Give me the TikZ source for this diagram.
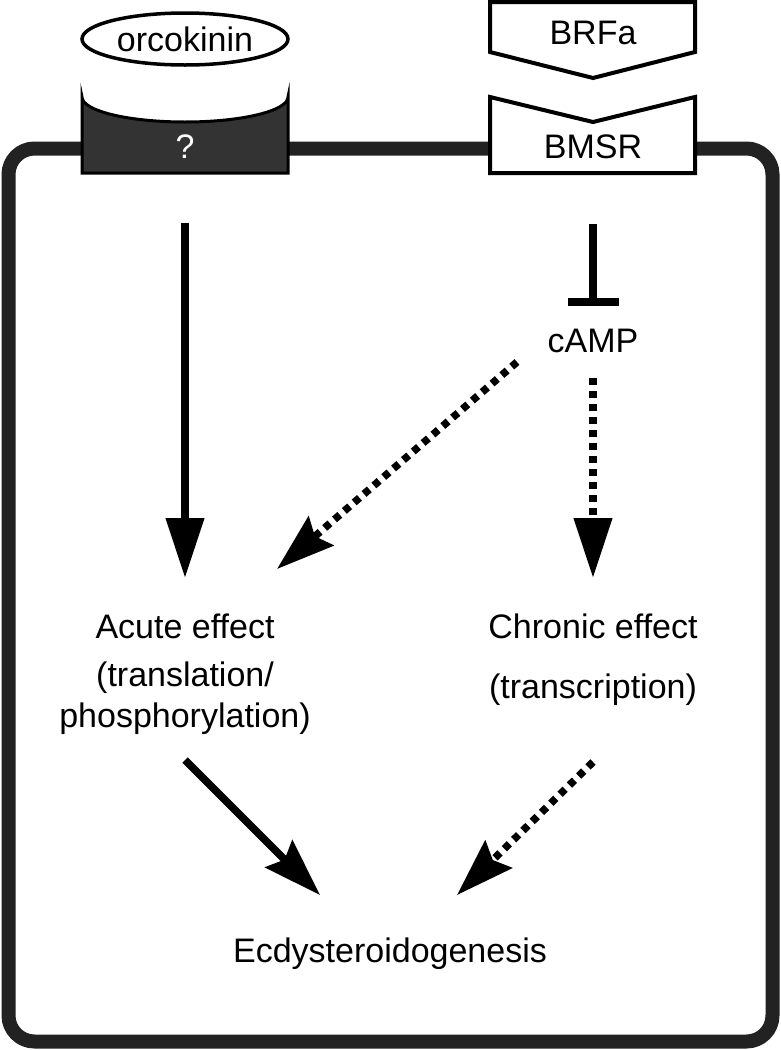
\documentclass[tikz,border=0pt]{standalone}
\usepackage{fontspec}
\setmainfont{Liberation Sans}
\usetikzlibrary{arrows.meta,shapes.geometric}
\definecolor{celledge}{HTML}{222222}
\definecolor{recfill}{HTML}{333333}
\begin{document}
\begin{tikzpicture}[x=1pt,y=-1pt,
  lbl/.style={font=\fontsize{34}{40}\selectfont, inner sep=0pt, outer sep=0pt},
  cellwall/.style={draw=celledge, line width=14pt, rounded corners=26pt},
  shapeline/.style={draw=black, line width=4pt, line join=miter},
  headT/.style={-{Triangle[length=60pt,width=37pt]}},
  headS/.style={-{Stealth[length=58pt,width=38pt,inset=8pt]}},
  solidline/.style={line width=7.5pt},
  dotline/.style={line width=7.5pt, dash pattern=on 7pt off 6pt},
]
\useasboundingbox (0,0) rectangle (781,1050);
\fill[white] (0,0) rectangle (781,1050);

% cell membrane
\draw[cellwall] (8.5,148.5) rectangle (772.5,1041.5);

% orcokinin and unknown receptor
\node[lbl, ellipse, draw=black, line width=3.5pt, minimum width=206pt, minimum height=52pt] (orco) at (185,39) {orcokinin};
\path[draw=black, line width=3pt, fill=recfill] (82,97) -- (82,173) -- (288,173) -- (288,97)
  .. controls (288,110.8) and (241.9,122) .. (185,122)
  .. controls (128.1,122) and (82,110.8) .. (82,97) -- cycle;
\node[lbl, text=white] (qmark) at (185,147) {?};

% BRFa and BMSR
\draw[shapeline, fill=white] (490,2) -- (695,2) -- (695,52) -- (593,78) -- (490,52) -- cycle;
\node[lbl, anchor=base] (brfa) at (593,44) {BRFa};
\draw[shapeline, fill=white] (490,97) -- (593,122) -- (695,97) -- (695,173) -- (490,173) -- cycle;
\node[lbl, anchor=base] (bmsr) at (593,158) {BMSR};

% texts
\node[lbl, anchor=base] (camp) at (593,352) {cAMP};
\node[lbl, anchor=base] (acute) at (185,638) {Acute effect};
\node[lbl, anchor=base] (acute2) at (185,686) {(translation/};
\node[lbl, anchor=base] (acute3) at (185,727) {phosphorylation)};
\node[lbl, anchor=base] (chronic) at (593,638) {Chronic effect};
\node[lbl, anchor=base] (chronic2) at (593,698) {(transcription)};
\node[lbl, anchor=base] (ecdy) at (390,962) {Ecdysteroidogenesis};

% connector end points
\coordinate (qout) at (185,223);
\coordinate (acutein) at (185,578);
\coordinate (bmsrout) at (593,224);
\coordinate (campbar) at (593,302);
\coordinate (campoutL) at (517,362);
\coordinate (acuteinR) at (277,569);
\coordinate (campoutB) at (593,378);
\coordinate (chronicin) at (593,578);
\coordinate (acuteout) at (185,760);
\coordinate (ecdyinL) at (320,895);
\coordinate (chronicout) at (593,762);
\coordinate (ecdyinR) at (457,895);

% connectors
\draw[solidline, headT] (qout) -- (acutein);
\draw[solidline] (bmsrout) -- (campbar);
\draw[line width=7.5pt] ([xshift=-25.5pt]campbar) -- ([xshift=25.5pt]campbar);
\draw[dotline, headS] (campoutL) -- (acuteinR);
\draw[dotline, headT] (campoutB) -- (chronicin);
\draw[solidline, headS] (acuteout) -- (ecdyinL);
\draw[dotline, headS] (chronicout) -- (ecdyinR);
\end{tikzpicture}
\end{document}
